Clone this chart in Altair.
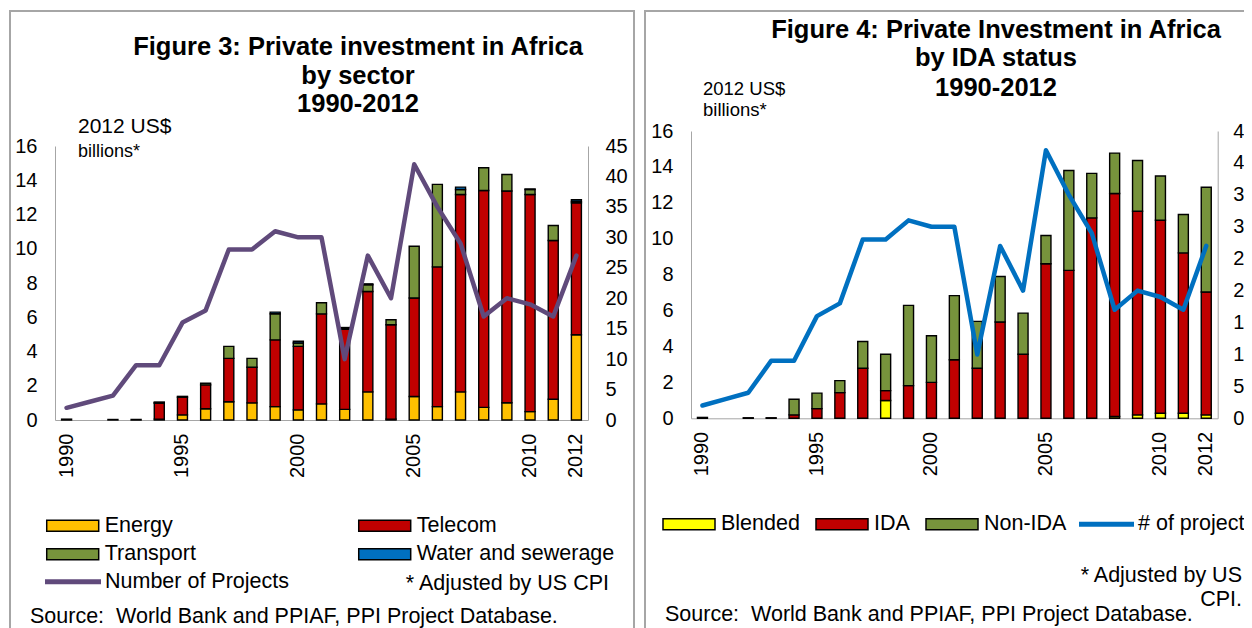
import altair as alt
import pandas as pd

FONT = "Liberation Sans"

years = list(range(1990, 2013))

# Figure 3: sector (2012 US$ billions), stacked bottom to top
sectors = ["Energy", "Telecom", "Transport", "Water and sewerage"]
sector_colors = ["#ffc000", "#c00000", "#77933c", "#0070c0"]
energy = [0, 0, 0, 0, 0.05, 0.3, 0.66, 1.07, 1.0, 0.78, 0.59, 0.94, 0.62, 1.64, 0.05, 1.37, 0.78, 1.64, 0.74, 1.01, 0.49, 1.21, 4.98]
telecom = [0, 0, 0.03, 0.03, 0.93, 1.03, 1.39, 2.53, 2.08, 3.9, 3.71, 5.26, 4.68, 5.86, 5.51, 5.75, 8.16, 11.53, 12.66, 12.36, 12.68, 9.27, 7.7]
transport = [0.05, 0, 0, 0, 0.03, 0.05, 0.1, 0.7, 0.52, 1.52, 0.2, 0.65, 0.05, 0.4, 0.29, 3.03, 4.82, 0.29, 1.33, 0.97, 0.29, 0.88, 0.08]
water = [0, 0, 0, 0, 0.04, 0, 0, 0, 0, 0.1, 0.1, 0, 0.05, 0.05, 0, 0, 0, 0.14, 0, 0, 0.03, 0, 0.1]
# legend reading order (filled column by column)
sector_legend_order = ["Energy", "Transport", "Telecom", "Water and sewerage"]

# Figure 4: IDA status (2012 US$ billions), stacked bottom to top
statuses = ["Blended", "IDA", "Non-IDA"]
status_colors = ["#ffff00", "#c00000", "#77933c"]
blended = [0, 0, 0, 0, 0, 0, 0, 0, 0.99, 0, 0, 0, 0, 0, 0, 0, 0, 0, 0.1, 0.19, 0.28, 0.28, 0.19]
ida = [0, 0, 0.03, 0.03, 0.19, 0.54, 1.43, 2.79, 0.55, 1.82, 2.0, 3.26, 2.79, 5.36, 3.57, 8.61, 8.24, 11.16, 12.42, 11.34, 10.75, 8.93, 6.84]
non_ida = [0.05, 0, 0, 0, 0.87, 0.86, 0.67, 1.49, 2.03, 4.47, 2.6, 3.57, 2.61, 2.54, 2.29, 1.57, 5.56, 2.48, 2.25, 2.83, 2.46, 2.14, 5.84]

# Number of projects (right axes)
projects = [2, 3, 4, 9, 9, 16, 18, 28, 28, 31, 30, 30, 10, 27, 20, 42, 35, 29, 17, 20, 19, 17, 27]

year_ticks = [1990, 1995, 2000, 2005, 2010, 2012]
left_ticks = list(range(0, 17, 2))
right_ticks = list(range(0, 46, 5))

title3 = ["Figure 3: Private investment in Africa", "by sector", "1990-2012"]
title4 = ["Figure 4: Private Investment in Africa", "by IDA status", "1990-2012"]
unit_line1 = "2012 US$"
unit_line2 = "billions*"
line_name3 = "Number of Projects"
line_name4 = "# of projects"
note3 = "* Adjusted by US CPI"
note4 = ["* Adjusted by US", "CPI."]
source = "Source:\u00a0 World Bank and PPIAF, PPI Project Database."

GRAY = "#a6a6a6"
RECT_PATH = "M-1,-0.2115H1V0.2115H-1Z"
W, H = 1236, 620  # whole canvas (page minus 8px margin)


def long_df(series, names, tag):
    rows = []
    for k, (name, vals) in enumerate(zip(names, series)):
        for y, v in zip(years, vals):
            if v > 0:
                rows.append({"year" + tag: y, "cat" + tag: name, "value" + tag: v, "ord" + tag: k})
    return pd.DataFrame(rows)


def txt(t, x, y, size, align="left", bold=False):
    return alt.Chart(pd.DataFrame({"t": [t]})).mark_text(
        align=align, baseline="middle", fontSize=size, font=FONT,
        fontWeight="bold" if bold else "normal", color="black"
    ).encode(text="t:N", x=alt.value(x), y=alt.value(y))


def frame(x, x2, y, y2):
    return alt.Chart(pd.DataFrame({"b": [0]})).mark_rect(
        filled=False, stroke=GRAY, strokeWidth=2
    ).encode(x=alt.value(x), x2=alt.value(x2), y=alt.value(y), y2=alt.value(y2))


def fill_leg(x, y, horizontal, colpad):
    kw = dict(title=None, orient="none", legendX=x, legendY=y, columnPadding=colpad,
              rowPadding=4.5, symbolType=RECT_PATH, symbolSize=2704,
              symbolStrokeColor="black", symbolStrokeWidth=1.5, symbolOffset=0,
              labelFontSize=21.5, labelFont=FONT, labelColor="black", labelOffset=5,
              clipHeight=24, padding=0, labelLimit=400, symbolOpacity=1)
    if horizontal:
        kw.update(direction="horizontal", columns=3)
    else:
        kw.update(columns=2)
    return alt.Legend(**kw)


def stroke_leg(x, y, length):
    return alt.Legend(title=None, orient="none", legendX=x, legendY=y, symbolType="stroke",
                      symbolSize=length * length, symbolStrokeWidth=5, symbolOffset=0,
                      labelFontSize=21.5, labelFont=FONT, labelColor="black", labelOffset=1.5,
                      clipHeight=24, padding=0, labelLimit=400)


def panel(tag, series, names, colors, legend_domain, line_name, line_color,
          x0, x1, ytop, ybot, fleg, sleg, ylab_pad_r):
    df = long_df(series, names, tag)
    pdf = pd.DataFrame({"year" + tag: years, "proj" + tag: projects,
                        "ser" + tag: [line_name] * len(years)})
    xs = alt.Scale(type="band", domain=years, range=[x0, x1], paddingInner=0.5, paddingOuter=0.25)
    xaxis = alt.Axis(values=year_ticks, labelAngle=270, title=None, ticks=False, orient="bottom",
                     offset=ybot - H, domainColor=GRAY, labelFontSize=20, labelFont=FONT,
                     labelColor="black", labelPadding=13)
    color_map = dict(zip(names, colors))
    bars = alt.Chart(df).mark_bar(size=10, stroke="black", strokeWidth=1.4).encode(
        x=alt.X(f"year{tag}:O", scale=xs, axis=xaxis),
        y=alt.Y(f"value{tag}:Q", stack="zero",
                scale=alt.Scale(domain=[0, 16], range=[ybot, ytop], nice=False),
                axis=alt.Axis(values=left_ticks, orient="left", offset=-x0, title=None,
                              grid=False, ticks=False, domainColor=GRAY, labelFontSize=20,
                              labelFont=FONT, labelColor="black", labelPadding=18)),
        color=alt.Color(f"cat{tag}:N",
                        scale=alt.Scale(domain=legend_domain,
                                        range=[color_map[n] for n in legend_domain]),
                        legend=fleg),
        order=alt.Order(f"ord{tag}:Q"),
    )
    line = alt.Chart(pdf).mark_line(strokeWidth=4.5, strokeJoin="round", strokeCap="round").encode(
        x=alt.X(f"year{tag}:O", scale=xs, axis=None),
        y=alt.Y(f"proj{tag}:Q", scale=alt.Scale(domain=[0, 45], range=[ybot, ytop], nice=False),
                axis=alt.Axis(values=right_ticks, orient="right", offset=x1 - W, title=None,
                              grid=False, ticks=False, domainColor=GRAY, labelFontSize=20,
                              labelFont=FONT, labelColor="black", labelPadding=ylab_pad_r)),
        stroke=alt.Stroke(f"ser{tag}:N", scale=alt.Scale(domain=[line_name], range=[line_color]),
                          legend=sleg),
    )
    return [bars, line]


# Left panel: plot area page x 55-588, y 146-420 (canvas origin at page 8,8)
left_layers = panel("L", [energy, telecom, transport, water], sectors, sector_colors,
                    sector_legend_order, line_name3, "#604a7b",
                    47, 580, 138, 412,
                    fill_leg(37.7, 505.7, False, 161), stroke_leg(34.5, 561.7, 56), 17)
left_text = [
    frame(2, 626, 3, 660),
    txt(title3[0], 350, 39, 25.5, "center", True),
    txt(title3[1], 350, 68, 25.5, "center", True),
    txt(title3[2], 350, 96, 25.5, "center", True),
    txt(unit_line1, 70, 119, 21),
    txt(unit_line2, 70, 144, 18),
    txt(note3, 601, 576, 21.5, "right"),
    txt(source, 22, 609, 21.5),
]

# Right panel: plot area page x 691-1217.7, y 131-418.3
right_layers = panel("R", [blended, ida, non_ida], statuses, status_colors,
                     statuses, line_name4, "#0070c0",
                     683, 1209.7, 123, 410.3,
                     fill_leg(654, 504.3, True, 15), stroke_leg(1068.5, 504.3, 55), 15)
right_text = [
    frame(637, 1290, 3, 660),
    txt(title4[0], 988, 22, 25.5, "center", True),
    txt(title4[1], 988, 50, 25.5, "center", True),
    txt(title4[2], 988, 80, 25.5, "center", True),
    txt(unit_line1, 695, 81, 18.5),
    txt(unit_line2, 695, 102, 18.5),
    txt(note4[0], 1234, 568, 21.5, "right"),
    txt(note4[1], 1234, 592, 21.5, "right"),
    txt(source, 657, 607, 21.5),
]

chart = alt.layer(*left_layers, *right_layers, *left_text, *right_text).resolve_scale(
    x="independent", y="independent", color="independent", stroke="independent"
).resolve_axis(x="independent", y="independent").resolve_legend(
    color="independent", stroke="independent"
).properties(
    width=W, height=H, padding=0, background="white",
    autosize=alt.AutoSizeParams(type="none"),
).configure_view(stroke="transparent")

chart.save("out.html", embed_options={"renderer": "svg", "actions": False})
